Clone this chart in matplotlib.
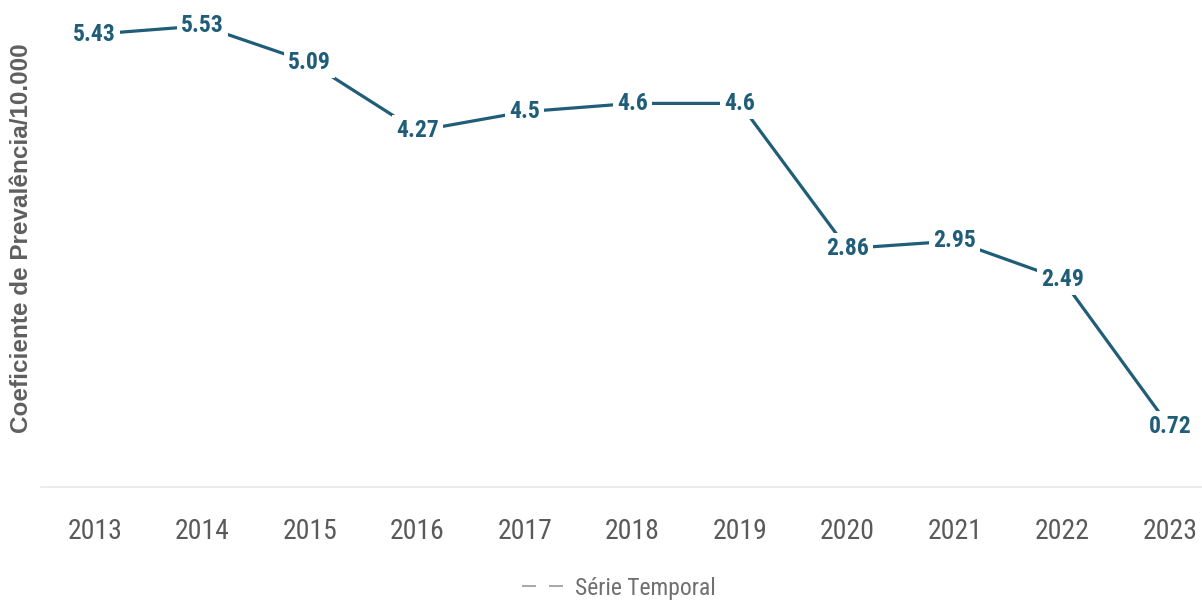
import matplotlib
matplotlib.use("Agg")
import matplotlib.pyplot as plt
from matplotlib.lines import Line2D

years = [2013, 2014, 2015, 2016, 2017, 2018, 2019, 2020, 2021, 2022, 2023]
coef = [5.43, 5.53, 5.09, 4.27, 4.5, 4.6, 4.6, 2.86, 2.95, 2.49, 0.72]
labels = ["5.43", "5.53", "5.09", "4.27", "4.5", "4.6", "4.6", "2.86", "2.95", "2.49", "0.72"]

narrow = ["Roboto Condensed", "Roboto", "DejaVu Sans"]
teal = "#1f5d78"
gray = "#5a5a5a"

fig = plt.figure(figsize=(12.02, 6.01), dpi=100)
ax = fig.add_axes([41 / 1202, 1 - 487 / 601, 1 - 41 / 1202, (487 - 20) / 601])

ax.plot(years, coef, color=teal, lw=2.3, solid_capstyle="round", zorder=2)
for x, y, t in zip(years, coef, labels):
    ax.text(x, y, t, ha="center", va="center", fontsize=17, fontweight="bold",
            family=narrow, color=teal, zorder=3,
            bbox=dict(boxstyle="square,pad=0.18", fc="white", ec="none"))

ax.set_xlim(2012.5, 2023.3)
ax.set_ylim(0, 5.6)
ax.set_xticks(years)
ax.set_xticklabels([str(y) for y in years], family=narrow, fontsize=20, color=gray)
ax.set_yticks([])
ax.tick_params(axis="x", length=0, pad=22)
for s in ["top", "right", "left"]:
    ax.spines[s].set_visible(False)
ax.spines["bottom"].set_color("#e8e8e8")
ax.spines["bottom"].set_linewidth(1.2)

fig.text(22 / 1202, 1 - 238 / 601, "Coeficiente de Prevalência/10.000", rotation=90,
         ha="center", va="center", fontsize=17.5, fontweight="bold",
         family=["Liberation Sans", "DejaVu Sans"], color="#5f5f5f")

handle = Line2D([], [], color="#9a9a9a", lw=1.2, linestyle=(0, (8.4, 7.8)))
leg = fig.legend([handle], ["Série Temporal"], loc="center", bbox_to_anchor=(0.515, 1 - 588 / 601),
                 frameon=False, handlelength=2.2, handletextpad=0.05,
                 prop={"family": narrow, "size": 17})
for txt in leg.get_texts():
    txt.set_color("#707070")

fig.savefig("out.png", dpi=100)
